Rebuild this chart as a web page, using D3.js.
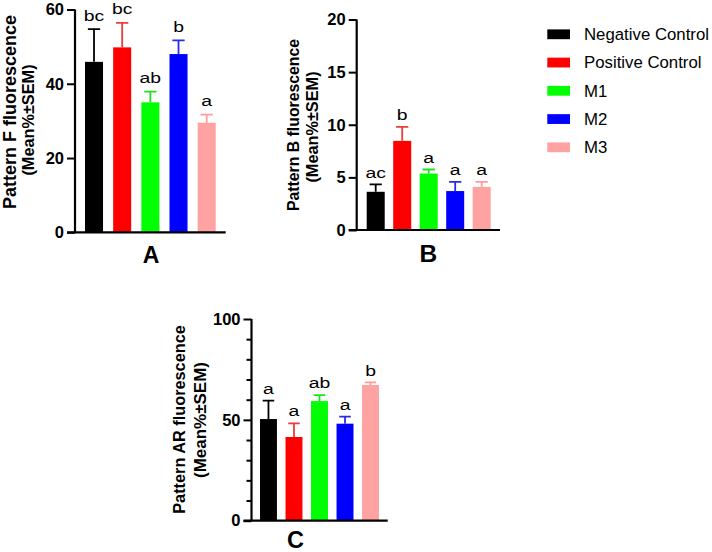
<!DOCTYPE html>
<html><head><meta charset="utf-8">
<script src="https://cdn.jsdelivr.net/npm/d3@7"></script>
<style>
html,body{margin:0;padding:0;background:#fff;}
svg{display:block;font-family:"Liberation Sans",Arial,sans-serif;}
</style></head>
<body><svg id="c" width="712" height="552"></svg>
<script>
// ---- data ----
const groups = ["Negative Control","Positive Control","M1","M2","M3"];
const barColors = ["#000000","#ff0000","#00ff00","#0000ff","#ffa2a2"];
const errColors = ["#000000","#ee3b3b","#19e619","#2a2aee","#ff9c9c"];

const meanF  = [45.9, 49.8, 35.0, 48.0, 29.5];
const semF   = [8.8, 6.6, 2.9, 3.7, 2.2];
const lettersF = ["bc","bc","ab","b","a"];
const ticksF = [0,20,40,60];

const meanB  = [3.63, 8.47, 5.37, 3.70, 4.10];
const semB   = [0.70, 1.32, 0.38, 0.88, 0.48];
const lettersB = ["ac","b","a","a","a"];
const ticksB = [0,5,10,15,20];

const meanAR = [50.4, 41.5, 59.3, 48.1, 67.3];
const semAR  = [9.1, 6.8, 3.0, 3.5, 1.3];
const lettersAR = ["a","a","ab","a","b"];
const ticksAR = [0,50,100];
const minorAR = [10,20,30,40,60,70,80,90];

// ---- layout ----
const svg = d3.select("#c");

function panel(cfg){
  const g = svg.append("g");
  const y = d3.scaleLinear().domain(cfg.domain).range([cfg.y0, cfg.y1]);
  const x = d3.scaleBand().domain(groups).range(cfg.barRange)
              .paddingInner(cfg.padIn).paddingOuter(0);
  const bw = x.bandwidth();
  const rows = groups.map((k,i)=>({k, m:cfg.mean[i], s:cfg.sem[i], l:cfg.letters[i], c:barColors[i], ec:errColors[i]}));

  // bars
  g.selectAll("rect.bar").data(rows).join("rect")
    .attr("x", d=>x(d.k)).attr("width", bw)
    .attr("y", d=>y(d.m)).attr("height", d=>y(0)-y(d.m))
    .attr("fill", d=>d.c);
  // error bars (upper only)
  const cap = bw*0.34;
  g.selectAll("path.err").data(rows).join("path")
    .attr("d", d=>{
      const cx = x(d.k)+bw/2, t = y(d.m+d.s);
      return `M${cx},${y(d.m)}V${t}M${cx-cap},${t}H${cx+cap}`;
    })
    .attr("stroke", d=>d.ec).attr("stroke-width",1.8).attr("fill","none");
  // letters
  g.selectAll("text.sig").data(rows).join("text")
    .attr("transform", d=>`translate(${x(d.k)+bw/2},${y(d.m+d.s)-cfg.gap}) scale(1.25,1)`)
    .attr("text-anchor","middle").attr("font-size",15.5).attr("fill","#000")
    .text(d=>d.l);

  // y axis
  const yAxis = d3.axisLeft(y).tickValues(cfg.ticks).tickSize(8).tickPadding(3).tickFormat(d3.format("d"));
  const ya = g.append("g").attr("transform",`translate(${cfg.axisX},0)`).call(yAxis);
  ya.attr("font-family",null).attr("font-size",null);
  ya.select(".domain").attr("d",`M0,${cfg.y1}V${cfg.y0}`).attr("stroke","#000").attr("stroke-width",2.2);
  ya.selectAll(".tick line").attr("stroke","#000").attr("stroke-width",2);
  ya.selectAll(".tick text").attr("font-size",16.5).attr("font-weight","bold").attr("fill","#000");
  if(cfg.minor){
    const ym = d3.axisLeft(y).tickValues(cfg.minor).tickSize(5).tickFormat("");
    const ma = g.append("g").attr("transform",`translate(${cfg.axisX},0)`).call(ym);
    ma.select(".domain").remove();
    ma.selectAll(".tick line").attr("stroke","#000").attr("stroke-width",2);
  }
  // x axis line
  g.append("line").attr("x1",cfg.axisX-8).attr("x2",cfg.xEnd)
    .attr("y1",y(0)).attr("y2",y(0)).attr("stroke","#000").attr("stroke-width",2.2);

  // y titles
  g.append("text").attr("transform",`translate(${cfg.t1x},${cfg.t1y}) rotate(-90)`)
    .attr("text-anchor","middle").attr("font-weight","bold").attr("font-size",cfg.t1s)
    .text(cfg.title1);
  g.append("text").attr("transform",`translate(${cfg.t2x},${cfg.t2y}) rotate(-90)`)
    .attr("text-anchor","middle").attr("font-weight","bold").attr("font-size",cfg.t2s)
    .text("(Mean%±SEM)");
  // panel letter
  g.append("text").attr("x",cfg.lx).attr("y",cfg.ly).attr("text-anchor","middle")
    .attr("font-weight","bold").attr("font-size",cfg.ls).text(cfg.letter);
}

panel({domain:[0,60], y0:232.3, y1:9.5, axisX:75, xEnd:225.7, barRange:[85,215.7], padIn:0.36,
  mean:meanF, sem:semF, letters:lettersF, ticks:ticksF, gap:8.5,
  title1:"Pattern F fluorescence", t1x:16, t1y:112, t1s:18, t2x:33.5, t2y:120, t2s:16.3,
  letter:"A", lx:151, ly:262.5, ls:23});

panel({domain:[0,20], y0:230, y1:19.5, axisX:356.7, xEnd:500, barRange:[366.7,490.7], padIn:0.32,
  mean:meanB, sem:semB, letters:lettersB, ticks:ticksB, gap:6.5,
  title1:"Pattern B fluorescence", t1x:299, t1y:125, t1s:15.8, t2x:318, t2y:127, t2s:16.3,
  letter:"B", lx:428.3, ly:261.5, ls:24.5});

panel({domain:[0,100], y0:520.7, y1:319, axisX:251.5, xEnd:387.7, barRange:[260,379], padIn:0.336,
  mean:meanAR, sem:semAR, letters:lettersAR, ticks:ticksAR, minor:minorAR, gap:6.8,
  title1:"Pattern AR fluorescence", t1x:185, t1y:419.5, t1s:16.3, t2x:205.5, t2y:420, t2s:17,
  letter:"C", lx:295.5, ly:548.3, ls:23.5});

// legend
const leg = svg.append("g");
const ly = d3.scalePoint().domain(groups).range([34.3,147.3]);
leg.selectAll("rect").data(groups).join("rect")
  .attr("x",547.3).attr("width",22.7).attr("y",d=>ly(d)-4.9).attr("height",9.8)
  .attr("fill",(d,i)=>barColors[i]);
leg.selectAll("text").data(groups).join("text")
  .attr("x",584).attr("y",d=>ly(d)).attr("dy","0.35em").attr("font-size",16.8)
  .attr("fill","#000").text(d=>d);
</script>
</body></html>
